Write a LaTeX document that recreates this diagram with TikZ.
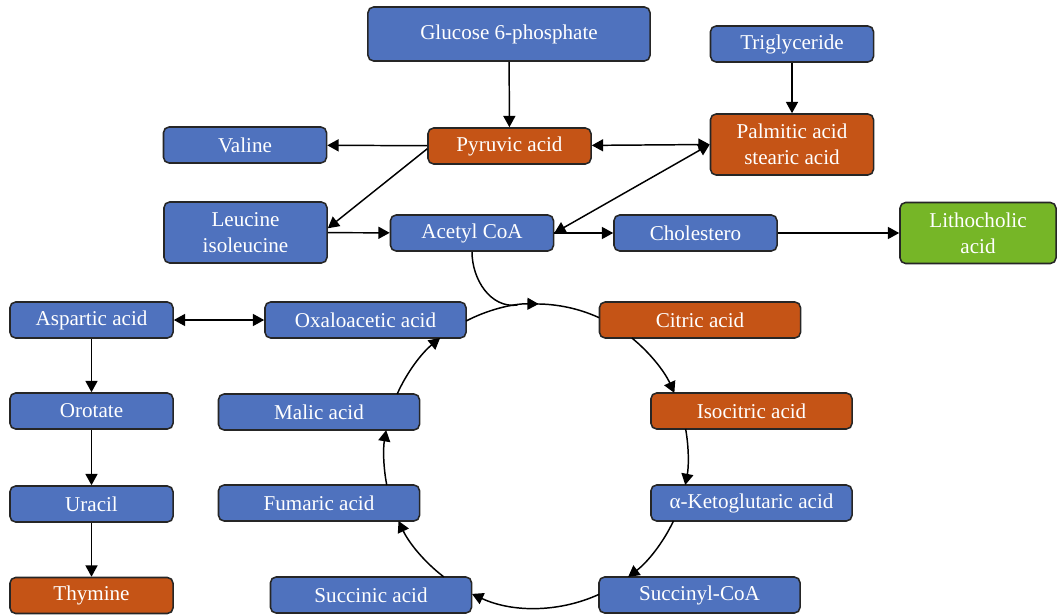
\documentclass[tikz,border=0pt]{standalone}
\usepackage{fontspec}
\setmainfont{Liberation Serif}
\usetikzlibrary{arrows.meta}
\definecolor{corazul}{RGB}{79,114,190}
\definecolor{corlaranja}{RGB}{197,84,22}
\definecolor{corverde}{RGB}{118,182,39}

\tikzset{
  caixa/.style={draw=black!85, line width=1.1pt, rounded corners=4pt, fill=corazul,
    text=white, font=\fontsize{15}{18.5}\selectfont, align=center, inner sep=0pt,
    minimum width=4.075cm, minimum height=0.9cm},
  larga/.style={caixa, minimum width=5.025cm},
  alta/.style={caixa, minimum height=1.525cm},
  laranja/.style={fill=corlaranja},
  verde/.style={fill=corverde}
}

\begin{document}
\begin{tikzpicture}[x=0.025cm, y=0.025cm, >={Triangle[length=8pt,width=8.5pt]}, line width=1.05pt]
    \useasboundingbox (0,0) rectangle (1057,614);

    % Caixas
    \node[caixa, minimum width=7.05cm, minimum height=1.35cm] (glicose) at (509,580) {Glucose 6-phosphate};
    \node[caixa] (trigl) at (792,570) {Triglyceride};
    \node[caixa] (valina) at (245,469) {Valine};
    \node[caixa, laranja] (piruvico) at (509.5,468) {Pyruvic acid};
    \node[alta, laranja] (palmitico) at (792,469.5) {Palmitic acid\\stearic acid};
    \node[alta] (leucina) at (245.5,381.5) {Leucine\\isoleucine};
    \node[caixa] (acetil) at (472,381) {Acetyl CoA};
    \node[caixa] (colest) at (695.5,381) {Cholestero};
    \node[alta, verde, minimum width=3.9cm] (litoc) at (978,381) {Lithocholic\\acid};
    \node[caixa] (aspartico) at (91.5,294) {Aspartic acid};
    \node[caixa] (orotato) at (91.5,203) {Orotate};
    \node[caixa] (uracila) at (91.5,110) {Uracil};
    \node[caixa, laranja] (timina) at (91.5,18.5) {Thymine};

    % Ciclo
    \coordinate (tca) at (536,158);
    \node[larga] (oxalo) at (365.5,294) {Oxaloacetic acid};
    \node[larga, laranja] (citrico) at (700,294) {Citric acid};
    \node[larga, laranja] (isocitrico) at (751.5,203) {Isocitric acid};
    \node[larga] (cetoglut) at (751.5,111) {α-Ketoglutaric acid};
    \node[larga] (succoa) at (699.5,19) {Succinyl-CoA};
    \node[larga] (succinico) at (371,19) {Succinic acid};
    \node[larga] (fumarico) at (319,111) {Fumaric acid};
    \node[larga] (malico) at (319,202) {Malic acid};

    % Setas
    \draw[->] (glicose) -- (piruvico);
    \draw[->] (trigl) -- (palmitico);
    \draw[->] (piruvico) -- (valina);
    \draw[<->] (piruvico) -- (palmitico.west);
    \draw[->] ([yshift=-2pt]piruvico.west) -- ([yshift=3pt]leucina.east);
    \draw[->] (leucina) -- (acetil);
    \draw[<->] (acetil.east) -- (palmitico.west);
    \draw[->] (acetil) -- (colest);
    \draw[->] (colest) -- (litoc);
    \draw[<->] (aspartico) -- (oxalo);
    \foreach \a/\b in {aspartico/orotato, orotato/uracila, uracila/timina}
        \draw[->] (\a) -- (\b);

    % Arcos do ciclo
    \draw (acetil.south) to[out=-90, in=187] ([shift={(97:3.8cm)}]tca);
    \draw ([shift={(90:3.8cm)}]tca) arc[start angle=90, end angle=65.5, radius=3.8cm];
    \foreach \a/\b in {117.4/89, 50.9/24.5, 10.2/-11, -25.3/-52.7, 294.5/245.1,
                       232.7/205.3, 191/170.2, 155.9/129.1}
        \draw[->] ([shift={(\a:3.8cm)}]tca) arc[start angle=\a, end angle=\b, radius=3.8cm];
\end{tikzpicture}
\end{document}
